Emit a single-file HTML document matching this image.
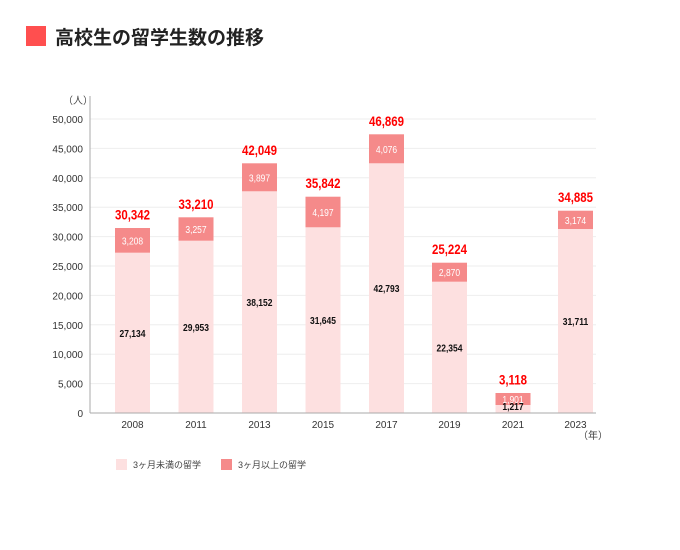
<!DOCTYPE html><html><head><meta charset="utf-8"><style>body{margin:0;background:#fff}svg{display:block;font-family:"Liberation Sans","Noto Sans CJK JP",sans-serif}</style></head><body>
<svg id="s" width="680" height="550" xmlns="http://www.w3.org/2000/svg">
<rect x="26" y="26" width="20" height="20" fill="#ff4f4f"/>
<text x="55" y="44" font-size="19" font-weight="bold" fill="#222">高校生の留学生数の推移</text>
<text x="63" y="104" font-size="10" fill="#444">（人）</text>
<g id="g"></g>
<line x1="90" y1="96" x2="90" y2="413" stroke="#aaa"/>
<line x1="90" y1="413" x2="596" y2="413" stroke="#aaa"/>
<text x="578" y="439" font-size="10" fill="#444">（年）</text>
<rect x="116" y="459" width="11" height="11" fill="#fde0e0"/>
<text x="133" y="468" font-size="9" fill="#444">3ヶ月未満の留学</text>
<rect x="221" y="459" width="11" height="11" fill="#f58a8a"/>
<text x="238" y="468" font-size="9" fill="#444">3ヶ月以上の留学</text>
</svg>
<script>
var g=document.getElementById('g'),h='';
var y0=413,k=(413-119)/50000;
for(var v=0;v<=50000;v+=5000){var y=y0-v*k;
if(v)h+='<line x1="90" y1="'+y+'" x2="596" y2="'+y+'" stroke="#eee"/>';
h+='<text x="83" y="'+(y+4)+'" font-size="10" fill="#333" text-anchor="end">'+v.toLocaleString('en-US')+'</text>';}
// year, light, dark, total, darkTop, lightTop, center
var d=[["2008",27134,3208,30342,228,252.7,132.5],["2011",29953,3257,33210,217.3,240.7,196],["2013",38152,3897,42049,163.3,191.3,259.5],["2015",31645,4197,35842,196.7,227.3,323],["2017",42793,4076,46869,134.3,163.3,386.5],["2019",22354,2870,25224,262.7,281.7,449.5],["2021",1217,1901,3118,393,405,513],["2023",31711,3174,34885,210.7,229,575.5]];
var f=function(n){return n.toLocaleString('en-US')};
function t(c,y,s,fs,bold,fill){return '<text x="'+c+'" y="'+y+'" font-size="'+fs+'"'+(bold?' font-weight="bold"':'')+' fill="'+fill+'" text-anchor="middle" transform="translate('+c+' 0) scale(0.85 1) translate('+(-c)+' 0)">'+s+'</text>';}
d.forEach(function(r){var c=r[6],x=c-17.5,w=35;
var yb=r[4],ya=r[5];
h+='<rect x="'+x+'" y="'+ya+'" width="'+w+'" height="'+(y0-ya)+'" fill="#fde0e0"/>';
h+='<rect x="'+x+'" y="'+yb+'" width="'+w+'" height="'+(ya-yb)+'" fill="#f58a8a"/>';
var ly=(r[1]<5000)?y0-3:(y0+ya)/2+4;
h+=t(c,ly,f(r[1]),10,1,'#111');
h+=t(c,(ya+yb)/2+4,f(r[2]),10,0,'#fff');
h+=t(c,yb-8.5,f(r[3]),13.5,1,'#f00');
h+='<text x="'+c+'" y="'+(y0+15)+'" font-size="10" fill="#333" text-anchor="middle">'+r[0]+'</text>';});
g.innerHTML=h;
</script></body></html>
